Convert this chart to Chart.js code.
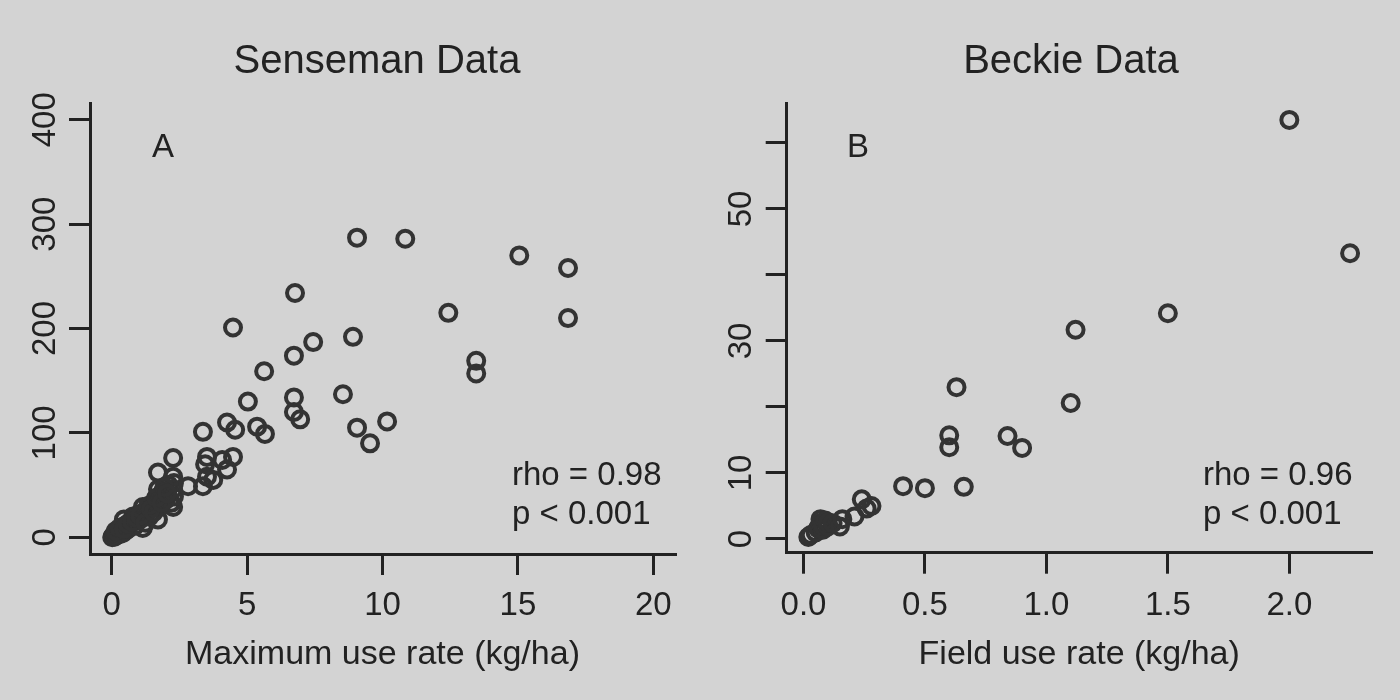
<!DOCTYPE html>
<html>
<head>
<meta charset="utf-8">
<title>Senseman / Beckie</title>
<script src="https://cdn.jsdelivr.net/npm/chart.js@4/dist/chart.umd.min.js"></script>
<style>
  body { margin: 0; background: #d3d3d3; }
  .panel { position: absolute; top: 0; width: 700px; height: 700px; }
</style>
</head>
<body>
<div class="panel" style="left:0"><canvas id="senseman" width="700" height="700"></canvas></div>
<div class="panel" style="left:700px"><canvas id="beckie" width="700" height="700"></canvas></div>
<script>
// Senseman data: maximum use rate (kg/ha) vs value
const sensemanRate = [0.02,0.05,0.08,0.1,0.12,0.15,0.18,0.2,0.25,0.3,0.35,0.4,0.42,0.45,0.5,0.55,0.6,0.7,0.79,0.85,0.9,1.0,1.1,1.15,1.15,1.2,1.3,1.4,1.5,1.6,1.71,1.71,1.71,1.78,1.8,1.9,2.0,2.1,2.2,2.27,2.27,2.27,2.27,2.3,2.3,
  0.15,0.3,0.45,0.6,0.75,0.9,1.05,1.25,1.35,1.45,1.55,1.65,1.85,1.95,2.05,
  2.82,3.37,3.37,3.45,3.52,3.52,3.75,4.08,4.26,4.26,4.48,4.48,4.56,5.03,5.37,5.63,5.66,6.73,6.73,6.73,6.77,6.96,7.44,8.54,8.91,9.06,9.06,9.54,10.17,10.84,12.43,13.46,13.46,15.05,16.85,16.85];
const sensemanValue = [0,1,2,0.5,3,1.5,4,2.5,5,3,7,4,10,17,6,12,8,14,20,11,16,22,18,9,29,24,26,20,32,35,17,46,62,29,40,44,36,50,33,29,46,58,76,39,52,
  6,9,8,13,15,19,21,14,30,27,24,38,33,48,42,
  49,49,101,70,58,77,55,74,65,110,77,201,103,130,106,159,99,120,134,174,234,113,187,137,192,105,287,90,111,286,215,157,169,270,210,258];

// Beckie data: field use rate (kg/ha) vs value
const beckieRate = [0.02,0.03,0.05,0.06,0.07,0.07,0.08,0.08,0.09,0.1,0.1,0.12,0.15,0.16,0.21,0.24,0.26,0.28,0.41,0.5,0.6,0.6,0.63,0.66,0.84,0.9,1.1,1.12,1.5,2.0,2.25];
const beckieValue = [0.3,0.6,1.0,1.6,2.4,3.0,1.4,2.0,2.8,1.9,2.5,2.4,1.9,3.0,3.4,6.0,4.6,5.0,8.0,7.7,13.9,15.7,23.0,7.9,15.6,13.8,20.6,31.7,34.2,63.5,43.3];

const sensemanXTicks = [0, 5, 10, 15, 20];
const sensemanYTicks = [0, 100, 200, 300, 400];
const beckieXTicks = [0, 0.5, 1, 1.5, 2];
const beckieXLabels = ['0.0', '0.5', '1.0', '1.5', '2.0'];
const beckieYTicks = [0, 10, 20, 30, 40, 50, 60];
const beckieYLabels = ['0', '10', '', '30', '', '50', ''];

const ink = '#222222';
const family = '"Liberation Sans", Arial, Helvetica, sans-serif';

// draws the title, panel letter and the rho / p notes
const notesPlugin = {
  id: 'notes',
  afterDraw(chart, args, opts) {
    const ctx = chart.ctx;
    ctx.save();
    ctx.fillStyle = ink;
    ctx.textBaseline = 'middle';
    opts.items.forEach((it) => {
      ctx.font = (it.size || 33) + 'px ' + family;
      ctx.textAlign = it.align || 'left';
      ctx.fillText(it.text, it.x, it.y);
    });
    ctx.restore();
  }
};

let makeChart = (id, cfg) => {
  const toPoints = (xs, ys) => xs.map((x, i) => ({ x: x, y: ys[i] }));
  const axisCommon = {
    border: { display: true, color: ink, width: 3 },
    grid: { display: true, drawOnChartArea: false, drawTicks: true, tickLength: 21, color: ink, lineWidth: 3 }
  };
  return new Chart(document.getElementById(id), {
    type: 'scatter',
    data: {
      datasets: [{
        data: toPoints(cfg.xs, cfg.ys),
        pointRadius: 8,
        pointHoverRadius: 8,
        pointBorderWidth: 4,
        pointBackgroundColor: 'rgba(0,0,0,0)',
        pointBorderColor: '#333333'
      }]
    },
    options: {
      responsive: false,
      animation: false,
      devicePixelRatio: 1,
      layout: { autoPadding: false, padding: { left: 0, right: cfg.padRight, top: 103, bottom: 0 } },
      plugins: {
        legend: { display: false },
        tooltip: { enabled: false },
        title: { display: false },
        notes: { items: cfg.notes }
      },
      scales: {
        x: Object.assign({}, axisCommon, {
          type: 'linear',
          min: cfg.xMin,
          max: cfg.xMax,
          afterBuildTicks: (s) => { s.ticks = cfg.xTicks.map((v) => ({ value: v })); },
          afterFit: (s) => { s.height = cfg.xHeight; },
          ticks: {
            color: ink,
            padding: cfg.xTickPad,
            maxRotation: 0,
            font: { family: family, size: 33, lineHeight: 1.2 },
            callback: (v, i) => cfg.xLabels ? cfg.xLabels[i] : String(v)
          },
          title: {
            display: true,
            text: cfg.xTitle,
            color: ink,
            font: { family: family, size: 34, lineHeight: 1.2 },
            padding: { top: 0, bottom: 25 }
          }
        }),
        y: Object.assign({}, axisCommon, {
          type: 'linear',
          min: cfg.yMin,
          max: cfg.yMax,
          afterBuildTicks: (s) => { s.ticks = cfg.yTicks.map((v) => ({ value: v })); },
          afterFit: (s) => { s.width = cfg.yWidth; },
          ticks: {
            color: ink,
            padding: cfg.yTickPad,
            minRotation: 90,
            maxRotation: 90,
            autoSkip: false,
            crossAlign: 'center',
            font: { family: family, size: 33, lineHeight: 1.2 },
            callback: (v, i) => cfg.yLabels ? cfg.yLabels[i] : String(v)
          }
        })
      }
    },
    plugins: [notesPlugin]
  });
};

makeChart('senseman', {
  xTitle: 'Maximum use rate (kg/ha)',
  xs: sensemanRate, ys: sensemanValue,
  xMin: -0.8, xMax: 20.8, yMin: -16, yMax: 416,
  xTicks: sensemanXTicks, yTicks: sensemanYTicks,
  padRight: 25, yWidth: 90, xHeight: 146,
  xTickPad: 11, yTickPad: -4.5,
  notes: [
    { text: 'Senseman Data', x: 377, y: 62, align: 'center', size: 40 },
    { text: 'A', x: 163, y: 148, align: 'center' },
    { text: 'rho = 0.98', x: 512, y: 476 },
    { text: 'p < 0.001', x: 512, y: 515 }
  ]
});

makeChart('beckie', {
  xTitle: 'Field use rate (kg/ha)',
  xs: beckieRate, ys: beckieValue,
  xMin: -0.069, xMax: 2.339, yMin: -2.08, yMax: 66.06,
  xTicks: beckieXTicks, xLabels: beckieXLabels,
  yTicks: beckieYTicks, yLabels: beckieYLabels,
  padRight: 28.3, yWidth: 86.7, xHeight: 147.3,
  xTickPad: 12.5, yTickPad: 5.4,
  notes: [
    { text: 'Beckie Data', x: 371, y: 62, align: 'center', size: 40 },
    { text: 'B', x: 158, y: 148, align: 'center' },
    { text: 'rho = 0.96', x: 503, y: 476 },
    { text: 'p < 0.001', x: 503, y: 515 }
  ]
});
</script>
</body>
</html>
